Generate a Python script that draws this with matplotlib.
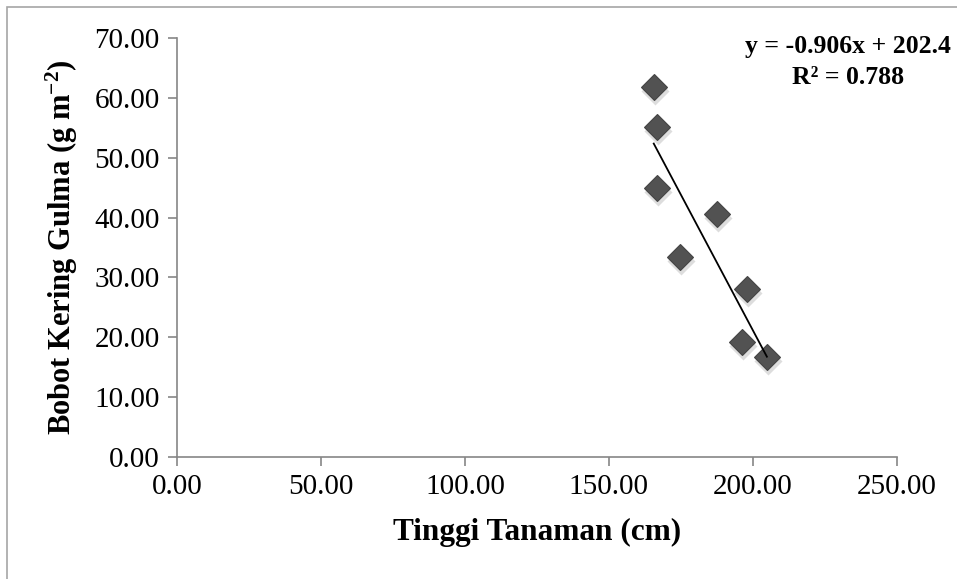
import matplotlib
matplotlib.use("Agg")
import matplotlib.pyplot as plt
from matplotlib.patches import Rectangle
import numpy as np

# data
tinggi = [165.6, 166.7, 166.7, 187.5, 174.7, 197.9, 196.2, 204.9]
bobot = [61.8, 55.1, 44.9, 40.6, 33.4, 28.1, 19.2, 16.7]
slope, intercept = -0.906, 202.4
r2 = 0.788

plt.rcParams['font.family'] = ['Liberation Serif', 'DejaVu Serif']
plt.rcParams['mathtext.fontset'] = 'custom'
plt.rcParams['mathtext.rm'] = 'Liberation Serif:bold'
plt.rcParams['mathtext.default'] = 'rm'

fig = plt.figure(figsize=(9.57, 5.79), dpi=100)
ax = fig.add_axes([0.185, 0.2107, 0.752, 0.7236])

# outer chart border (only left/top visible in the crop)
fig.patches.append(Rectangle((7/957, -0.1), 2.0, 1.1 - 7/579, transform=fig.transFigure,
                             fill=False, edgecolor='#a6a6a6', lw=1.2))

# soft shadow then diamonds
ax.plot(np.array(tinggi) + 0.4, np.array(bobot) - 0.7, 'D', ms=14, color='#cfcfcf',
        alpha=0.7, mec='none', zorder=2)
ax.plot(tinggi, bobot, 'D', ms=13.5, color='#525252', mec='#444444', mew=0.8, zorder=3)

# linear trendline
xl = np.array([min(tinggi), max(tinggi)])
ax.plot(xl, slope * xl + intercept, color='black', lw=1.3, zorder=4)

ax.set_xlim(0, 250)
ax.set_ylim(0, 70)
ax.set_xticks(np.arange(0, 251, 50))
ax.set_yticks(np.arange(0, 71, 10))
ax.set_xticklabels(['%.2f' % v for v in np.arange(0, 251, 50)])
ax.set_yticklabels(['%.2f' % v for v in np.arange(0, 71, 10)])

for s in ['top', 'right']:
    ax.spines[s].set_visible(False)
for s in ['left', 'bottom']:
    ax.spines[s].set_color('#868686')
    ax.spines[s].set_linewidth(1.2)
ax.tick_params(direction='out', length=6.5, width=1.2, color='#868686',
               labelsize=21, pad=6)

ax.set_xlabel('Tinggi Tanaman (cm)', fontsize=22.5, fontweight='bold', labelpad=13)
ax.set_ylabel('Bobot Kering Gulma (g m$^{-2}$)', fontsize=22, fontweight='bold',
              labelpad=10)

fig.text(848/957, 1 - 47/579, 'y = -0.906x + 202.4', ha='center', va='center',
         fontsize=18.5, fontweight='bold')
fig.text(848/957, 1 - 77/579, 'R² = %.3f' % r2, ha='center', va='center',
         fontsize=18.5, fontweight='bold')

fig.savefig('out.png', dpi=100)
